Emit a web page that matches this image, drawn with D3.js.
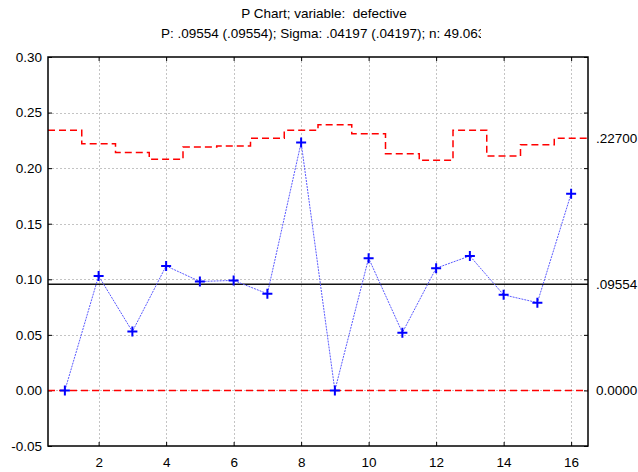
<!DOCTYPE html>
<html>
<head>
<meta charset="utf-8">
<script src="https://cdn.jsdelivr.net/npm/d3@7/dist/d3.min.js"></script>
<style>
  html, body { margin: 0; padding: 0; background: #fff; }
  svg { display: block; font-family: "Liberation Sans", Arial, sans-serif; }
  .title { white-space: pre; }
</style>
</head>
<body>
<svg id="chart" width="638" height="472"></svg>
<script>
// Sample numbers (x axis)
const samples = [1, 2, 3, 4, 5, 6, 7, 8, 9, 10, 11, 12, 13, 14, 15, 16];
// Proportion defective per sample
const proportion = [0.000, 0.103, 0.053, 0.112, 0.098, 0.099, 0.087, 0.223,
                    0.000, 0.119, 0.052, 0.110, 0.121, 0.086, 0.079, 0.177];
// Upper control limit per sample (varies with sample size)
const ucl = [0.234, 0.222, 0.214, 0.208, 0.219, 0.220, 0.227, 0.234,
             0.239, 0.231, 0.213, 0.207, 0.234, 0.211, 0.221, 0.227];
// Lower control limit per sample
const lcl = [0, 0, 0, 0, 0, 0, 0, 0, 0, 0, 0, 0, 0, 0, 0, 0];
const centerP = 0.09554;
const yTicks = [-0.05, 0.00, 0.05, 0.10, 0.15, 0.20, 0.25, 0.30];
const xTicks = [2, 4, 6, 8, 10, 12, 14, 16];
const rightLabels = [
  { value: 0.2270, text: ".22700" },
  { value: centerP, text: ".09554" },
  { value: 0, text: "0.0000" }
];
const titleLines = [
  "P Chart; variable:  defective",
  "P: .09554 (.09554); Sigma: .04197 (.04197); n: 49.063"
];

const svg = d3.select("#chart");
const plot = { left: 48, right: 588, top: 57, bottom: 446 };
const FS = "13.5px";

const x = d3.scaleLinear().domain([0.5, 16.5]).range([plot.left, plot.right]);
const y = d3.scaleLinear().domain([-0.05, 0.30]).range([plot.bottom, plot.top]);

// Titles (second line clipped at its right end)
svg.append("defs").append("clipPath").attr("id", "titleClip")
  .append("rect").attr("x", 0).attr("y", 0).attr("width", 481).attr("height", 50);
const titles = svg.append("g").attr("clip-path", "url(#titleClip)");
titles.append("text").attr("class", "title").attr("x", 324).attr("y", 18)
  .attr("text-anchor", "middle").style("font-size", FS).text(titleLines[0]);
titles.append("text").attr("class", "title").attr("x", 161).attr("y", 38)
  .attr("text-anchor", "start").style("font-size", FS).text(titleLines[1]);

// Grid lines
const grid = svg.append("g").attr("stroke", "#c4c4c4").attr("stroke-width", 1)
  .attr("stroke-dasharray", "2,2").attr("shape-rendering", "crispEdges");
grid.selectAll("line.h").data(yTicks.filter(v => v > -0.05 && v < 0.30)).join("line")
  .attr("class", "h")
  .attr("x1", plot.left).attr("x2", plot.right)
  .attr("y1", d => Math.round(y(d)) + 0.5).attr("y2", d => Math.round(y(d)) + 0.5);
grid.selectAll("line.v").data(xTicks).join("line")
  .attr("class", "v")
  .attr("y1", plot.top).attr("y2", plot.bottom)
  .attr("x1", d => Math.round(x(d)) + 0.5).attr("x2", d => Math.round(x(d)) + 0.5);

// Axes with inward ticks
const fmt = d => d.toFixed(2);
const leftAxis = svg.append("g").attr("transform", `translate(${plot.left},0)`)
  .call(d3.axisLeft(y).tickValues(yTicks).tickFormat(fmt).tickSize(-4).tickPadding(6));
const bottomAxis = svg.append("g").attr("transform", `translate(0,${plot.bottom})`)
  .call(d3.axisBottom(x).tickValues(xTicks).tickFormat(d3.format("d")).tickSize(-4).tickPadding(11));
const rightAxis = svg.append("g").attr("transform", `translate(${plot.right},0)`)
  .call(d3.axisRight(y).tickValues(yTicks).tickFormat("").tickSize(-4));
const topAxis = svg.append("g").attr("transform", `translate(0,${plot.top})`)
  .call(d3.axisTop(x).tickValues(xTicks).tickFormat("").tickSize(-4));
[leftAxis, bottomAxis, rightAxis, topAxis].forEach(a => {
  a.select(".domain").remove();
  a.selectAll("line").attr("stroke", "#000");
  a.selectAll("text").style("font-size", FS).attr("fill", "#000")
    .style("font-family", "'Liberation Sans', Arial, sans-serif");
});

// Step path through the per-sample limits
const stepLine = d3.line().x(d => x(d.x)).y(d => y(d.v)).curve(d3.curveStepAfter);
const stepPts = arr => samples.map((s, i) => ({ x: s - 0.5, v: arr[i] }))
  .concat([{ x: samples[samples.length - 1] + 0.5, v: arr[arr.length - 1] }]);

// Lower control limit
svg.append("path").datum(stepPts(lcl)).attr("d", stepLine)
  .attr("fill", "none").attr("stroke", "#ff0000").attr("stroke-width", 1.5)
  .attr("stroke-dasharray", "7,4");

// Upper control limit (stepped)
svg.append("path").datum(stepPts(ucl)).attr("d", stepLine)
  .attr("fill", "none").attr("stroke", "#ff0000").attr("stroke-width", 1.5)
  .attr("stroke-dasharray", "7,4");

// Center line
svg.append("line").attr("x1", plot.left).attr("x2", plot.right)
  .attr("y1", y(centerP)).attr("y2", y(centerP))
  .attr("stroke", "#111").attr("stroke-width", 1.3);

// Sample proportions
const pLine = d3.line().x((d, i) => x(samples[i])).y(d => y(d));
svg.append("path").datum(proportion).attr("d", pLine)
  .attr("fill", "none").attr("stroke", "#5a5aff").attr("stroke-width", 1)
  .attr("stroke-dasharray", "2,1");
svg.append("g").selectAll("path").data(proportion).join("path")
  .attr("d", (d, i) => {
    const cx = x(samples[i]), cy = y(d), r = 5;
    return `M${cx - r},${cy}H${cx + r}M${cx},${cy - r}V${cy + r}`;
  })
  .attr("stroke", "#0000ff").attr("stroke-width", 2).attr("fill", "none");

// Plot frame
svg.append("rect").attr("x", plot.left).attr("y", plot.top)
  .attr("width", plot.right - plot.left).attr("height", plot.bottom - plot.top)
  .attr("fill", "none").attr("stroke", "#000").attr("stroke-width", 1.5);

// Control limit value labels on the right
svg.append("g").selectAll("text").data(rightLabels).join("text")
  .attr("x", 596).attr("y", d => y(d.value)).attr("dy", "0.35em")
  .style("font-size", FS).text(d => d.text);
</script>
</body>
</html>
